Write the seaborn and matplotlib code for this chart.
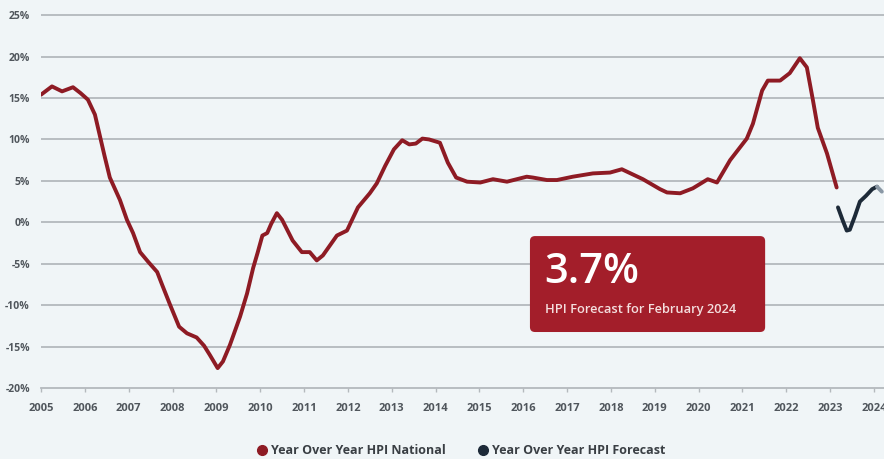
import matplotlib
matplotlib.use("Agg")
import matplotlib.pyplot as plt
import seaborn as sns
from matplotlib.lines import Line2D
from matplotlib.patches import FancyBboxPatch

# Year over year HPI, national (decimal years, percent)
national_years = [2005.00, 2005.25, 2005.48, 2005.73, 2005.90, 2006.07, 2006.23, 2006.34,
                  2006.45, 2006.57, 2006.80, 2006.96, 2007.10, 2007.26, 2007.45, 2007.65,
                  2007.76, 2007.94, 2008.15, 2008.33, 2008.55, 2008.72, 2008.85, 2009.03,
                  2009.15, 2009.31, 2009.54, 2009.70, 2009.84, 2009.94, 2010.05, 2010.16,
                  2010.25, 2010.38, 2010.50, 2010.74, 2010.95, 2011.13, 2011.29, 2011.43,
                  2011.75, 2011.98, 2012.23, 2012.50, 2012.66, 2012.85, 2013.05, 2013.24,
                  2013.40, 2013.55, 2013.70, 2013.85, 2014.10, 2014.28, 2014.47, 2014.72,
                  2015.02, 2015.31, 2015.63, 2016.08, 2016.22, 2016.54, 2016.77, 2017.13,
                  2017.59, 2017.98, 2018.25, 2018.73, 2019.12, 2019.28, 2019.58, 2019.87,
                  2020.21, 2020.42, 2020.72, 2021.10, 2021.24, 2021.45, 2021.58, 2021.86,
                  2022.08, 2022.31, 2022.47, 2022.61, 2022.72, 2022.93, 2023.15]
national_values = [15.4, 16.4, 15.8, 16.3, 15.6, 14.8, 13.0, 10.5,
                   8.0, 5.4, 2.7, 0.3, -1.3, -3.6, -4.8, -6.0,
                   -7.5, -9.9, -12.6, -13.4, -13.9, -14.9, -16.0, -17.6,
                   -16.8, -14.8, -11.4, -8.6, -5.5, -3.7, -1.6, -1.3,
                   -0.2, 1.1, 0.3, -2.2, -3.6, -3.6, -4.6, -4.0,
                   -1.6, -1.0, 1.8, 3.5, 4.7, 6.8, 8.8, 9.9,
                   9.4, 9.5, 10.1, 10.0, 9.6, 7.2, 5.4, 4.9,
                   4.8, 5.2, 4.9, 5.5, 5.4, 5.1, 5.1, 5.5,
                   5.9, 6.0, 6.4, 5.2, 4.0, 3.6, 3.5, 4.1,
                   5.2, 4.8, 7.5, 10.1, 11.9, 15.9, 17.1, 17.1,
                   18.0, 19.8, 18.7, 14.7, 11.4, 8.3, 4.2]

# Forecast
forecast_years = [2023.18, 2023.29, 2023.38, 2023.45, 2023.57, 2023.68, 2023.82, 2023.96, 2024.07, 2024.18]
forecast_values = [1.8, 0.2, -1.0, -0.9, 0.8, 2.5, 3.2, 4.0, 4.3, 3.7]

year_ticks = list(range(2005, 2025))
pct_ticks = [-20, -15, -10, -5, 0, 5, 10, 15, 20, 25]

red = "#8e1b24"
navy = "#1d2a38"
bg = "#f0f5f7"
label_col = "#50565c"

sns.set_theme(style="white")
plt.rcParams["font.family"] = ["Open Sans", "DejaVu Sans"]

fig = plt.figure(figsize=(8.84, 4.59), dpi=100, facecolor=bg)
ax = fig.add_axes([41 / 884, 1 - 388 / 459, 843 / 884, 377 / 459])
ax.set_facecolor(bg)

# gridlines
for v in pct_ticks[1:]:
    ax.axhline(v, color="#b4b9bd", lw=1.3, zorder=0)

line_kw = dict(sort=False, estimator=None, lw=2.8, solid_capstyle="round",
               solid_joinstyle="round", zorder=3)
sns.lineplot(x=national_years, y=national_values, ax=ax, color=red, **line_kw)
sns.lineplot(x=forecast_years[:-1], y=forecast_values[:-1], ax=ax, color=navy, **line_kw)
sns.lineplot(x=forecast_years[-2:], y=forecast_values[-2:], ax=ax, color="#8a98a5", **line_kw)

ax.set_xlim(2005, 2024.23)
ax.set_ylim(-20, 25.5)
ax.set_xticks(year_ticks)
ax.set_xticklabels([str(y) for y in year_ticks])
ax.set_yticks(pct_ticks)
ax.set_yticklabels([f"{v}%" for v in pct_ticks])
ax.tick_params(axis="x", length=3, width=1, color="#b4b9bd", pad=8,
               labelsize=8, labelcolor=label_col, bottom=True)
ax.tick_params(axis="y", length=0, pad=8, labelsize=7.5, labelcolor=label_col)
for lab in ax.get_xticklabels() + ax.get_yticklabels():
    lab.set_fontweight("bold")

for s in ["top", "right", "left"]:
    ax.spines[s].set_visible(False)
ax.spines["bottom"].set_color("#b4b9bd")
ax.spines["bottom"].set_linewidth(1.3)
ax.set_xlabel("")
ax.set_ylabel("")

# callout box
box = FancyBboxPatch((0.580, 0.1485), 0.279, 0.2545, transform=ax.transAxes,
                     boxstyle="round,pad=0,rounding_size=0.006", mutation_aspect=2.2,
                     facecolor="#a31e2a", edgecolor="none", zorder=5)
ax.add_patch(box)
ax.text(0.597, 0.2785, "3.7%", transform=ax.transAxes, color="white", fontsize=30,
        fontweight="semibold", va="baseline", ha="left", zorder=6)
ax.text(0.598, 0.199, "HPI Forecast for February 2024", transform=ax.transAxes,
        color="#f4dede", fontsize=9.3, fontweight="semibold", va="baseline", ha="left", zorder=6)

handles = [Line2D([], [], marker="o", ls="", color=red, markersize=7),
           Line2D([], [], marker="o", ls="", color=navy, markersize=7)]
fig.legend(handles, ["Year Over Year HPI National", "Year Over Year HPI Forecast"],
           loc="center", bbox_to_anchor=(0.522, 8 / 459), ncol=2, frameon=False,
           handlelength=0.8, handletextpad=0.3, columnspacing=2.6,
           prop={"size": 9, "weight": "bold"}, labelcolor="#3a3f44")

fig.savefig("out.png", dpi=100, facecolor=bg)
